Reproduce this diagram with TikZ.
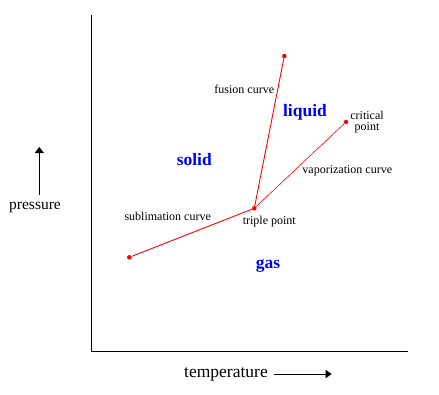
\documentclass[tikz,border=0pt]{standalone}
\usepackage{fontspec}
\setmainfont{Liberation Serif}
\usetikzlibrary{arrows.meta, positioning}

\begin{document}
\begin{tikzpicture}[x=1pt, y=-1pt,
    pt/.style={circle, fill=red, inner sep=0pt, minimum size=4.5pt},
    curve/.style={red, line width=0.9pt},
    lbl/.style={font=\fontsize{12}{13}\selectfont, inner sep=0pt, align=center},
    phase/.style={font=\fontsize{17.5}{20}\selectfont\bfseries, text=blue, inner sep=0pt},
    axlbl/.style={font=\fontsize{15.5}{18}\selectfont, inner sep=0pt}]
    \useasboundingbox (0,0) rectangle (439,394);
    % axes
    \coordinate (top) at (91.3,15);
    \coordinate (org) at (91.3,351);
    \coordinate (rgt) at (408,351);
    \draw[line width=1pt] (top) -- (org) -- (rgt);
    % points
    \node[pt] (tp) at (254.3,208.3) {};
    \node[pt] (fus) at (284.3,56) {};
    \node[pt] (cp) at (346,122) {};
    \node[pt] (sub) at (129.3,257.3) {};
    \draw[curve] (sub) -- (tp);
    \draw[curve] (tp) -- (fus);
    \draw[red, line width=0.6pt] (tp) -- (cp);
    % labels
    \node[lbl] at (244.3,89.3) {fusion curve};
    \node[lbl] at (367,121.7) {critical\\[-2pt]point};
    \node[lbl] at (347.3,171) {vaporization curve};
    \node[lbl] at (167.7,216) {sublimation curve};
    \node[lbl] at (269.3,222) {triple point};
    \node[phase] at (305,112.7) {liquid};
    \node[phase] at (194.3,160) {solid};
    \node[phase] at (268,266) {gas};
    % axis names
    \node[axlbl] (pres) at (35,207) {pressure};
    \coordinate (pup) at (39.3,147);
    \draw[-{Triangle[length=6pt,width=9pt]}] (39.3,195) -- (pup);
    \node[axlbl, font=\fontsize{17.5}{20}\selectfont] (temp) at (226,374) {temperature};
    \coordinate (tend) at (331.7,374);
    \draw[-{Triangle[length=6pt,width=8pt]}] (274,374) -- (tend);
\end{tikzpicture}
\end{document}
